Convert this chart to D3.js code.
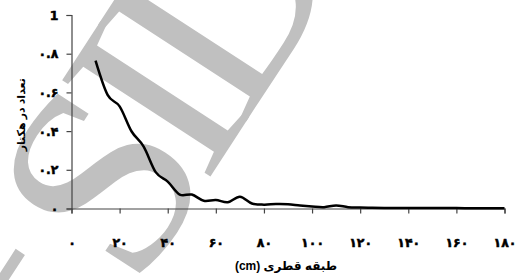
<!DOCTYPE html>
<html>
<head>
<meta charset="utf-8">
<script src="https://cdn.jsdelivr.net/npm/d3@7"></script>
<style>
  html, body { margin: 0; padding: 0; background: #fff; }
  svg { display: block; }
</style>
</head>
<body>
<svg id="chart" width="519" height="280"></svg>
<script>
// ---- data ----
const diameterClasses = [10, 15, 20, 25, 30, 35, 40, 45, 50, 55, 60, 65, 70, 75, 80, 85, 90, 95, 100, 105, 110, 115, 120, 125, 130, 135, 140, 145, 150, 155, 160, 165, 170, 175, 180];
const densityPerHa   = [0.764, 0.587, 0.528, 0.398, 0.32, 0.188, 0.139, 0.072, 0.072, 0.04, 0.044, 0.032, 0.061, 0.026, 0.02, 0.023, 0.022, 0.015, 0.01, 0.007, 0.016, 0.007, 0.005, 0.004, 0.003, 0.003, 0.002, 0.002, 0.002, 0.002, 0.002, 0.001, 0.001, 0.001, 0.001];
const xTicks = [0, 20, 40, 60, 80, 100, 120, 140, 160, 180];
const yTicks = [0, 0.2, 0.4, 0.6, 0.8, 1];
const xTitle = "طبقه قطری (cm)";
const yTitle = "تعداد در هکتار";

const faDigits = "۰۱۲۳۴۵۶۷۸۹";
const toFa = s => String(s).replace(/[0-9]/g, d => faDigits[+d]);

const svg = d3.select("#chart");

// watermark
svg.append("text")
  .attr("transform", "translate(12,482) rotate(-57)")
  .attr("font-family", "Liberation Serif, serif")
  .attr("font-size", 270)
  .attr("letter-spacing", -22)
  .attr("fill", "#c0c0c0")
  .text("of SID");

const x = d3.scaleLinear().domain([0, 180]).range([71.5, 504.5]);
const y = d3.scaleLinear().domain([0, 1]).range([208.5, 15]);

const font = "Liberation Sans, DejaVu Sans, sans-serif";
const digitFont = "DejaVu Sans, sans-serif";

// y axis
const yAxis = svg.append("g").attr("transform", `translate(${x(0)},0)`)
  .call(d3.axisLeft(y).tickValues(yTicks).tickSize(5).tickPadding(8)
    .tickFormat(d => d === 1 ? "1" : toFa(d3.format("")(d))));
// x axis
const xAxis = svg.append("g").attr("transform", `translate(0,${y(0)})`)
  .call(d3.axisBottom(x).tickValues(xTicks).tickSize(5).tickPadding(25)
    .tickFormat(d => toFa(d)));

[yAxis, xAxis].forEach(g => {
  g.select(".domain").attr("stroke", "#444").attr("stroke-width", 1.2);
  g.selectAll(".tick line").attr("stroke", "#444").attr("stroke-width", 1.2);
  g.selectAll(".tick text").attr("fill", "#000").attr("font-family", digitFont)
    .attr("font-size", 12.5).attr("font-weight", "bold").attr("direction", "ltr")
    .attr("stroke", "#000").attr("stroke-width", 0.5);
});

// line
const line = d3.line()
  .x((d, i) => x(diameterClasses[i]))
  .y(d => y(d))
  .curve(d3.curveCardinal);
svg.append("path")
  .datum(densityPerHa)
  .attr("d", line)
  .attr("fill", "none")
  .attr("stroke", "#000")
  .attr("stroke-width", 2.5)
  .attr("stroke-linejoin", "round");

// titles
svg.append("text")
  .attr("x", 286).attr("y", 270)
  .attr("text-anchor", "middle")
  .attr("font-family", font).attr("font-size", 12).attr("font-weight", "bold")
  .attr("direction", "rtl")
  .text(xTitle);
svg.append("text")
  .attr("transform", `translate(25,${(y(0) + y(1)) / 2 + 3}) rotate(-90)`)
  .attr("text-anchor", "middle")
  .attr("font-family", font).attr("font-size", 11).attr("font-weight", "bold")
  .attr("direction", "rtl")
  .text(yTitle);
</script>
</body>
</html>
